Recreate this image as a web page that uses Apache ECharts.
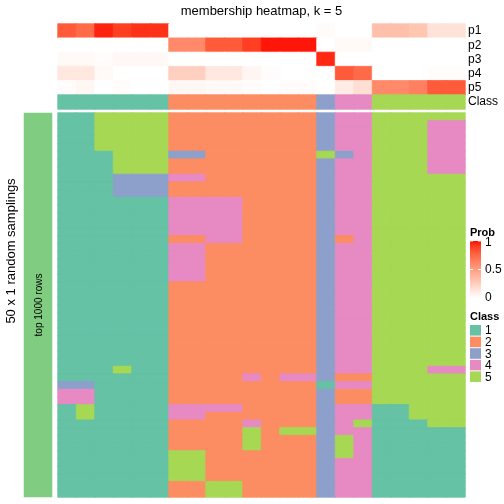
<!DOCTYPE html>
<html><head><meta charset="utf-8">
<script src="https://cdn.jsdelivr.net/npm/echarts/dist/echarts.min.js"></script>
<style>html,body{margin:0;padding:0;background:#fff}#c{width:504px;height:504px}</style>
</head><body><div id="c"></div>
<script>
// ---------------- data ----------------
const probNames = ['p1', 'p2', 'p3', 'p4', 'p5'];
const p1 = [0.80, 0.74, 0.96, 0.90, 0.93, 0.93, 0, 0, 0, 0, 0, 0, 0, 0, 0.02, 0, 0, 0.33, 0.33, 0.30, 0.15, 0.15];
const p2 = [0, 0, 0, 0, 0, 0, 0.60, 0.60, 0.80, 0.80, 0.90, 0.98, 0.98, 0.98, 0, 0.03, 0.03, 0, 0, 0, 0, 0];
const p3 = [0.03, 0.03, 0.015, 0.035, 0.035, 0.035, 0, 0, 0, 0, 0, 0, 0, 0, 0.95, 0, 0, 0, 0, 0, 0, 0];
const p4 = [0.12, 0.12, 0.03, 0, 0, 0, 0.25, 0.25, 0.12, 0.12, 0.05, 0.015, 0, 0, 0, 0.80, 0.74, 0, 0, 0, 0.015, 0.015];
const p5 = [0.015, 0.04, 0, 0.015, 0, 0, 0.04, 0.04, 0.03, 0.03, 0.015, 0, 0.015, 0.015, 0, 0.10, 0.17, 0.60, 0.60, 0.64, 0.80, 0.80];
const classRow = [1, 1, 1, 1, 1, 1, 2, 2, 2, 2, 2, 2, 2, 2, 3, 4, 4, 5, 5, 5, 5, 5];
const classNames = ['1', '2', '3', '4', '5'];
// 50 random samplings (rows) x 22 samples (columns), class per cell
const samplingRows = [
  '1155552222222234455555',
  '1155552222222234455544',
  '1155552222222234455544',
  '1155552222222234455544',
  '1155552222222234455544',
  '1115553322222253455544',
  '1115552222222234455544',
  '1115552222222234455544',
  '1113334422222234455555',
  '1113332222222234455555',
  '1113332222222234455555',
  '1111114444222234455555',
  '1111114444222234455555',
  '1111114444222234455555',
  '1111114444222234455555',
  '1111114444222234455555',
  '1111112244222232455555',
  '1111114422222234455555',
  '1111114422222234455555',
  '1111114422222234455555',
  '1111114422222234455555',
  '1111114422222234455555',
  '1111112222222234455555',
  '1111112222222234455555',
  '1111112222222234455555',
  '1111112222222234455555',
  '1111112222222234455555',
  '1111112222222234455555',
  '1111112222222234455555',
  '1111112222222234455555',
  '1111112222222234455555',
  '1111112222222234455555',
  '1111112222222234455555',
  '1115112222222234455544',
  '1111112222424432255555',
  '3311112222222214455555',
  '4411112222222232255555',
  '4411112222222232255555',
  '1511114444222234411555',
  '1511114422222234411555',
  '1111112222422234511155',
  '1111112222525534411111',
  '1111112222522235411111',
  '1111112222522235411111',
  '1111115522222235411111',
  '1111115522222234411111',
  '1111115522222234411111',
  '1111115522222234411111',
  '1111112255222234411111',
  '1111112255222234411111'
];
const probTicks = [1, 0.5, 0];

// ---------------- styles ----------------
const FONT = 'Liberation Sans, Arial, sans-serif';
const classColors = ['#66C2A5', '#FC8D62', '#8DA0CB', '#E78AC3', '#A6D854'];
const samplingBarColor = '#80CC80';

// white -> red interpolation in CIE LAB
function srgbToLin(c) { c /= 255; return c <= 0.04045 ? c / 12.92 : Math.pow((c + 0.055) / 1.055, 2.4); }
function linToSrgb(c) { c = Math.max(0, Math.min(1, c)); return 255 * (c <= 0.0031308 ? 12.92 * c : 1.055 * Math.pow(c, 1 / 2.4) - 0.055); }
function rgbToLab(rgb) {
  const [r, g, b] = rgb.map(srgbToLin);
  const X = (0.4124 * r + 0.3576 * g + 0.1805 * b) / 0.95047;
  const Y = (0.2126 * r + 0.7152 * g + 0.0722 * b);
  const Z = (0.0193 * r + 0.1192 * g + 0.9505 * b) / 1.08883;
  const f = t => t > 0.008856 ? Math.cbrt(t) : 7.787 * t + 16 / 116;
  const fx = f(X), fy = f(Y), fz = f(Z);
  return [116 * fy - 16, 500 * (fx - fy), 200 * (fy - fz)];
}
function labToRgb([L, a, b]) {
  const fy = (L + 16) / 116, fx = fy + a / 500, fz = fy - b / 200;
  const fi = t => t > 0.206893 ? t * t * t : (t - 16 / 116) / 7.787;
  const X = 0.95047 * fi(fx), Y = fi(fy), Z = 1.08883 * fi(fz);
  const r = 3.2406 * X - 1.5372 * Y - 0.4986 * Z;
  const g = -0.9689 * X + 1.8758 * Y + 0.0415 * Z;
  const bb = 0.0557 * X - 0.2040 * Y + 1.0570 * Z;
  return [r, g, bb].map(v => Math.round(linToSrgb(v)));
}
const labW = rgbToLab([255, 255, 255]), labR = rgbToLab([255, 0, 0]);
function probColor(t) {
  const lab = labW.map((v, i) => v + (labR[i] - v) * t);
  const [r, g, b] = labToRgb(lab);
  return 'rgb(' + r + ',' + g + ',' + b + ')';
}
const probStops = Array.from({ length: 41 }, (_, i) => probColor(i / 40));

// ---------------- build series data ----------------
const seam = 0.8; // same-colour border to hide antialiasing seams between cells
const colIdx = classRow.map((_, i) => String(i));
const rowIdx = samplingRows.map((_, i) => String(i));
const probData = [];
[p1, p2, p3, p4, p5].forEach((arr, r) => arr.forEach((v, c) =>
  probData.push({ value: [c, r, v], itemStyle: { borderColor: probColor(v), borderWidth: seam } })));
const classItem = (c, r, v) => ({ value: [c, r, v], itemStyle: { borderColor: classColors[v - 1], borderWidth: seam } });
const classData = classRow.map((v, c) => classItem(c, 0, v));
const mainData = [];
samplingRows.forEach((row, r) => row.split('').forEach((ch, c) => mainData.push(classItem(c, r, Number(ch)))));

// ---------------- layout ----------------
const HX = 58, HW = 407;
const annTop = 24, annRowH = 14.2;
const mainTop = 113, mainH = 384;

const sideLabel = { margin: 3, fontSize: 12, color: '#000', fontFamily: FONT, interval: 0 };
const noAxis = { axisLine: { show: false }, axisTick: { show: false }, splitLine: { show: false } };

// legends (graphic)
const legX = 470, gradTop = 241, gradH = 57, sw = 11;
const graphics = [
  { type: 'text', x: HX + HW / 2, y: 11, style: { text: 'membership heatmap, k = 5', fontSize: 13, fontFamily: FONT, fill: '#000', textAlign: 'center', textVerticalAlign: 'middle' } },
  { type: 'text', x: 11, y: 251, rotation: Math.PI / 2, style: { text: '50 x 1 random samplings', fontSize: 13, fontFamily: FONT, fill: '#000', textAlign: 'center', textVerticalAlign: 'middle' } },
  { type: 'text', x: 39, y: 305, rotation: Math.PI / 2, style: { text: 'top 1000 rows', fontSize: 10, fontFamily: FONT, fill: '#000', textAlign: 'center', textVerticalAlign: 'middle' } },
  { type: 'text', x: legX, y: 233, style: { text: 'Prob', fontSize: 11, fontWeight: 'bold', fontFamily: FONT, fill: '#000', textAlign: 'left', textVerticalAlign: 'middle' } },
  { type: 'rect', shape: { x: legX, y: gradTop, width: sw, height: gradH }, style: { fill: new echarts.graphic.LinearGradient(0, 1, 0, 0, probStops.map((c, i) => ({ offset: i / (probStops.length - 1), color: c }))) } },
  { type: 'text', x: legX, y: 317, style: { text: 'Class', fontSize: 11, fontWeight: 'bold', fontFamily: FONT, fill: '#000', textAlign: 'left', textVerticalAlign: 'middle' } }
];
probTicks.forEach(v => {
  const y = gradTop + (1 - v) * gradH;
  if (v > 0) {
    graphics.push({ type: 'line', shape: { x1: legX, y1: y, x2: legX + 3, y2: y }, style: { stroke: '#fff', lineWidth: 1 } });
    graphics.push({ type: 'line', shape: { x1: legX + sw - 3, y1: y, x2: legX + sw, y2: y }, style: { stroke: '#fff', lineWidth: 1 } });
  }
  graphics.push({ type: 'text', x: legX + 15, y: Math.min(Math.max(y, gradTop + 2), gradTop + gradH + 1), style: { text: String(v), fontSize: 12, fontFamily: FONT, fill: '#000', textAlign: 'left', textVerticalAlign: 'middle' } });
});
classNames.forEach((n, i) => {
  const y = 325 + i * 11.6;
  graphics.push({ type: 'rect', shape: { x: legX, y: y, width: sw, height: 10.6 }, style: { fill: classColors[i] } });
  graphics.push({ type: 'text', x: legX + 15, y: y + 6, style: { text: n, fontSize: 12, fontFamily: FONT, fill: '#000', textAlign: 'left', textVerticalAlign: 'middle' } });
});
graphics.forEach(g => { g.z = 100; });

const option = {
  animation: false,
  backgroundColor: '#fff',
  grid: [
    { left: HX, top: annTop, width: HW, height: annRowH * 5 },
    { left: HX, top: annTop + annRowH * 5, width: HW, height: 14 },
    { left: HX, top: mainTop, width: HW, height: mainH },
    { left: 24, top: mainTop, width: 28, height: mainH }
  ],
  xAxis: [
    { type: 'category', gridIndex: 0, data: colIdx, show: false },
    { type: 'category', gridIndex: 1, data: colIdx, show: false },
    { type: 'category', gridIndex: 2, data: colIdx, show: false },
    { type: 'category', gridIndex: 3, data: ['s'], show: false }
  ],
  yAxis: [
    Object.assign({ type: 'category', gridIndex: 0, data: probNames, inverse: true, position: 'right', axisLabel: sideLabel }, noAxis),
    Object.assign({ type: 'category', gridIndex: 1, data: ['Class'], position: 'right', axisLabel: sideLabel }, noAxis),
    { type: 'category', gridIndex: 2, data: rowIdx, inverse: true, show: false },
    { type: 'category', gridIndex: 3, data: ['s'], show: false }
  ],
  visualMap: [
    { type: 'continuous', show: false, min: 0, max: 1, seriesIndex: 0, dimension: 2, inRange: { color: probStops } },
    { type: 'piecewise', show: false, seriesIndex: [1, 2], dimension: 2,
      pieces: classNames.map((n, i) => ({ value: Number(n), color: classColors[i] })) }
  ],
  series: [
    { type: 'heatmap', xAxisIndex: 0, yAxisIndex: 0, data: probData, emphasis: { disabled: true } },
    { type: 'heatmap', xAxisIndex: 1, yAxisIndex: 1, data: classData, emphasis: { disabled: true } },
    { type: 'heatmap', xAxisIndex: 2, yAxisIndex: 2, data: mainData, emphasis: { disabled: true } },
    { type: 'heatmap', xAxisIndex: 3, yAxisIndex: 3, data: [[0, 0, 1]], itemStyle: { color: samplingBarColor }, emphasis: { disabled: true } }
  ],
  graphic: graphics
};
const chart = echarts.init(document.getElementById('c'), null, { renderer: 'canvas' });
chart.setOption(option);
</script>
</body></html>
